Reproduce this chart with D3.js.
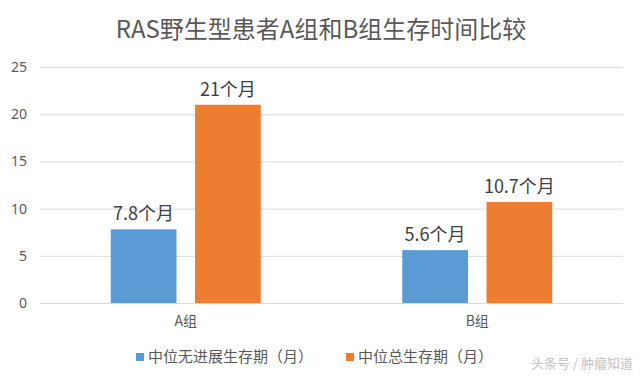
<!DOCTYPE html>
<html>
<head>
<meta charset="utf-8">
<script src="https://cdn.jsdelivr.net/npm/d3@7"></script>
<style>
  body { margin: 0; background: #fff; }
  text { font-family: "Noto Sans CJK SC", "Noto Sans", sans-serif; }
</style>
</head>
<body>
<svg id="chart" width="640" height="382"></svg>
<script>
// Chart values
var groups = ["A组", "B组"];
var seriesNames = ["中位无进展生存期（月）", "中位总生存期（月）"];
var pfs = [7.8, 5.6];
var os = [21, 10.7];
var valueLabels = [["7.8个月", "21个月"], ["5.6个月", "10.7个月"]];
var yTicks = [0, 5, 10, 15, 20, 25];
var colors = ["#5b9bd5", "#ed7d31"];

var svg = d3.select("#chart"),
    width = +svg.attr("width"),
    height = +svg.attr("height"),
    margin = {top: 67, right: 17, bottom: 79, left: 40};

// Title
svg.append("text")
    .attr("x", width / 2 + 1)
    .attr("y", 38)
    .attr("text-anchor", "middle")
    .attr("font-size", 24)
    .attr("fill", "#595959")
    .text("RAS野生型患者A组和B组生存时间比较");

// Scales
var x0 = d3.scaleBand().domain(groups).range([margin.left, width - margin.right]);
var bw = x0.bandwidth();
var x1 = d3.scaleBand().domain([0, 1]).range([bw / 2 - 75, bw / 2 + 75]).paddingInner(0.22);
var y = d3.scaleLinear().domain([0, 25]).range([height - margin.bottom, margin.top]);

// Gridlines + y labels
var yAxis = d3.axisLeft(y).tickValues(yTicks).tickSize(-(width - margin.left - margin.right)).tickPadding(13);
var gy = svg.append("g").attr("transform", "translate(" + margin.left + ",0)").call(yAxis);
gy.select(".domain").remove();
gy.selectAll("line").attr("stroke", "#d9d9d9").attr("stroke-width", 1);
gy.selectAll("text").attr("font-size", 14).attr("fill", "#595959")
    .style("font-family", "'Noto Sans', sans-serif");

// Category labels
var xAxis = d3.axisBottom(x0).tickSize(0).tickPadding(13);
var gx = svg.append("g").attr("transform", "translate(0," + y(0) + ")").call(xAxis);
gx.select(".domain").remove();
gx.selectAll("text").attr("font-size", 14).attr("fill", "#595959");

// Bars
var rows = groups.map(function(g, i) { return {group: g, vals: [pfs[i], os[i]], labels: valueLabels[i]}; });
var gg = svg.selectAll("g.grp").data(rows).enter().append("g")
    .attr("class", "grp")
    .attr("transform", function(d) { return "translate(" + x0(d.group) + ",0)"; });

gg.selectAll("rect").data(function(d) { return d.vals; }).enter().append("rect")
    .attr("x", function(d, i) { return x1(i); })
    .attr("y", function(d) { return y(d); })
    .attr("width", x1.bandwidth())
    .attr("height", function(d) { return y(0) - y(d); })
    .attr("fill", function(d, i) { return colors[i]; });

gg.selectAll("text.val").data(function(d) { return d.vals.map(function(v, i) { return {v: v, t: d.labels[i]}; }); })
    .enter().append("text")
    .attr("class", "val")
    .attr("x", function(d, i) { return x1(i) + x1.bandwidth() / 2; })
    .attr("y", function(d) { return y(d.v) - 9; })
    .attr("text-anchor", "middle")
    .attr("font-size", 18)
    .attr("fill", "#404040")
    .text(function(d) { return d.t; });

// Legend
var legendX = [136, 346];
var lg = svg.selectAll("g.leg").data(seriesNames).enter().append("g")
    .attr("class", "leg")
    .attr("transform", function(d, i) { return "translate(" + legendX[i] + ",357)"; });
lg.append("rect").attr("x", 0).attr("y", -4).attr("width", 8).attr("height", 8)
    .attr("fill", function(d, i) { return colors[i]; });
lg.append("text").attr("x", 12).attr("y", 0).attr("dy", "0.35em")
    .attr("font-size", 15).attr("fill", "#595959")
    .text(function(d) { return d; });

// Watermark
svg.append("text")
    .attr("x", 633)
    .attr("y", 368)
    .attr("text-anchor", "end")
    .attr("font-size", 13)
    .attr("fill", "#c4c4c4")
    .text("头条号 / 肿瘤知道");
</script>
</body>
</html>
